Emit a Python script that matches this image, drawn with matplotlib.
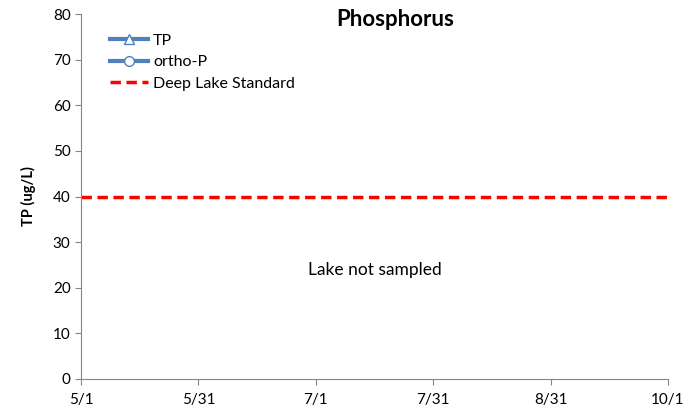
import numpy as np
import matplotlib.pyplot as plt
from matplotlib.lines import Line2D

plt.rcParams['font.family'] = ['Lato', 'DejaVu Sans']

# season window in days since 5/1
season_start = 0
season_end = 153
tick_labels = ['5/1', '5/31', '7/1', '7/31', '8/31', '10/1']
standard_tp = 40
y_max = 80
y_step = 10

# no samples this season
tp_days, tp_vals = [], []
op_days, op_vals = [], []

BLUE = '#4F81BD'
RED = '#FF0000'
GRAY = '#868686'

fig = plt.figure(figsize=(6.84, 4.12), dpi=100)
ax = fig.add_axes([81/684, 1-379/412, (668-81)/684, (379-14)/412])

ax.plot(tp_days, tp_vals, color=BLUE, lw=3, marker='^', mfc='white', ms=7, label='TP')
ax.plot(op_days, op_vals, color=BLUE, lw=3, marker='o', mfc='white', ms=7, label='ortho-P')
ax.plot([season_start, season_end], [standard_tp, standard_tp], color=RED, lw=2.5,
        ls=(0, (3, 1.6)), label='Deep Lake Standard')

ax.set_xlim(season_start, season_end)
ax.set_ylim(0, y_max)
ax.set_xticks(np.linspace(season_start, season_end, len(tick_labels)))
ax.set_xticklabels(tick_labels)
ax.set_yticks(np.arange(0, y_max + 1, y_step))

for s in ['top', 'right']:
    ax.spines[s].set_visible(False)
for s in ['left', 'bottom']:
    ax.spines[s].set_color(GRAY)
ax.tick_params(colors=GRAY, labelcolor='black', labelsize=11, length=4)
ax.tick_params(axis='x', pad=6)

ax.set_ylabel('TP (ug/L)', fontsize=10.5, fontweight='bold', labelpad=12)
fig.text(395/684, 1-20/412, 'Phosphorus', ha='center', va='center',
         fontsize=16, fontweight='bold')
ax.text((season_start + season_end) / 2, 24, 'Lake not sampled', ha='center',
        va='center', fontsize=12.5)

handles = [
    Line2D([], [], color=BLUE, lw=3, marker='^', mfc='white', ms=7),
    Line2D([], [], color=BLUE, lw=3, marker='o', mfc='white', ms=7),
    Line2D([], [], color=RED, lw=2.5, ls=(0, (3, 1.6))),
]
ax.legend(handles, ['TP', 'ortho-P', 'Deep Lake Standard'], loc='upper left',
          bbox_to_anchor=(0.025, 0.985), frameon=False, fontsize=11.5,
          handlelength=2.4, handletextpad=0.3, labelspacing=0.45)

fig.savefig('out.png', dpi=100)
